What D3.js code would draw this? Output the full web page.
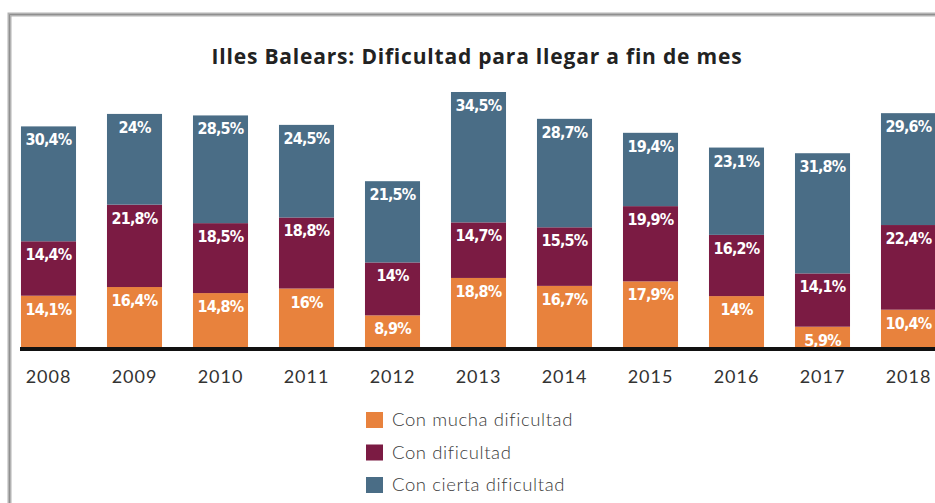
<!DOCTYPE html>
<html>
<head>
<meta charset="utf-8">
<script src="https://cdn.jsdelivr.net/npm/d3@7"></script>
<style>
  body { margin: 0; background: #fff; }
  svg { display: block; }
</style>
</head>
<body>
<svg id="chart"></svg>
<script>
const years = ["2008", "2009", "2010", "2011", "2012", "2013", "2014", "2015", "2016", "2017", "2018"];
const muchaDificultad = [14.1, 16.4, 14.8, 16, 8.9, 18.8, 16.7, 17.9, 14, 5.9, 10.4];
const conDificultad = [14.4, 21.8, 18.5, 18.8, 14, 14.7, 15.5, 19.9, 16.2, 14.1, 22.4];
const ciertaDificultad = [30.4, 24, 28.5, 24.5, 21.5, 34.5, 28.7, 19.4, 23.1, 31.8, 29.6];
const seriesNames = ["Con mucha dificultad", "Con dificultad", "Con cierta dificultad"];
const colors = ["#e8823d", "#7b1b43", "#4a6d86"];

const W = 935, H = 503;
const baseline = 349;

const svg = d3.select("#chart").attr("width", W).attr("height", H);

// marco gris
svg.append("path")
    .attr("d", `M9.5,${H + 5} V14.5 H${W + 5}`)
    .attr("fill", "none")
    .attr("stroke", "#b3b3b3")
    .attr("stroke-width", 4);
svg.append("path")
    .attr("d", `M9.5,${H + 5} V14.5 H${W + 5}`)
    .attr("fill", "none")
    .attr("stroke", "#8f8f8f")
    .attr("stroke-width", 1);

const rows = years.map((y, i) => ({
    year: y,
    s0: muchaDificultad[i],
    s1: conDificultad[i],
    s2: ciertaDificultad[i]
}));

const stacked = d3.stack().keys(["s0", "s1", "s2"])(rows);

const x = d3.scaleBand()
    .domain(years)
    .range([5.5, 5.5 + years.length * 86])
    .paddingInner(0.36)
    .paddingOuter(0.18);

const y = d3.scaleLinear().domain([0, 68]).range([baseline, 92]);

const layers = svg.selectAll(".layer")
    .data(stacked)
    .enter().append("g")
    .attr("class", "layer")
    .attr("fill", (d, i) => colors[i]);

layers.selectAll("rect")
    .data(d => d)
    .enter().append("rect")
    .attr("x", d => x(d.data.year))
    .attr("y", d => y(d[1]))
    .attr("width", x.bandwidth())
    .attr("height", d => y(d[0]) - y(d[1]));

const fmt = v => String(v).replace(".", ",") + "%";

layers.selectAll("text")
    .data(d => d.map(p => ({ p, key: d.key })))
    .enter().append("text")
    .attr("x", d => x(d.p.data.year) + x.bandwidth() / 2)
    .attr("y", d => y(d.p[1]) + 19)
    .attr("text-anchor", "middle")
    .style("font-family", "'DejaVu Sans Condensed', sans-serif")
    .style("font-stretch", "condensed")
    .style("font-weight", "bold")
    .style("font-size", "16px")
    .style("letter-spacing", "-0.8px")
    .style("fill", "#fff")
    .text(d => fmt(d.p.data[d.key]));

// eje
svg.append("line")
    .attr("x1", 20).attr("x2", W)
    .attr("y1", baseline).attr("y2", baseline)
    .attr("stroke", "#111")
    .attr("stroke-width", 4);

const xAxis = svg.append("g")
    .attr("transform", `translate(0,${baseline + 2})`)
    .call(d3.axisBottom(x).tickSize(0).tickPadding(19));
xAxis.select(".domain").remove();
xAxis.selectAll("text")
    .style("font-family", "Lato, sans-serif")
    .style("font-size", "18px")
    .style("letter-spacing", "1px")
    .style("fill", "#333");

svg.append("text")
    .attr("x", 477)
    .attr("y", 64)
    .attr("text-anchor", "middle")
    .style("font-family", "'Open Sans', sans-serif")
    .style("font-weight", "bold")
    .style("font-size", "21px")
    .style("letter-spacing", "0.8px")
    .style("fill", "#222")
    .text("Illes Balears: Dificultad para llegar a fin de mes");

const legend = svg.selectAll(".legend")
    .data(seriesNames)
    .enter().append("g")
    .attr("class", "legend")
    .attr("transform", (d, i) => `translate(366,${412 + i * 32.5})`);

legend.append("rect")
    .attr("width", 17).attr("height", 16)
    .attr("fill", (d, i) => colors[i]);

legend.append("text")
    .attr("x", 26)
    .attr("y", 14)
    .style("font-family", "Lato, sans-serif")
    .style("font-weight", "300")
    .style("font-size", "18.5px")
    .style("letter-spacing", "0.6px")
    .style("fill", "#3a3a3a")
    .text(d => d);
</script>
</body>
</html>
